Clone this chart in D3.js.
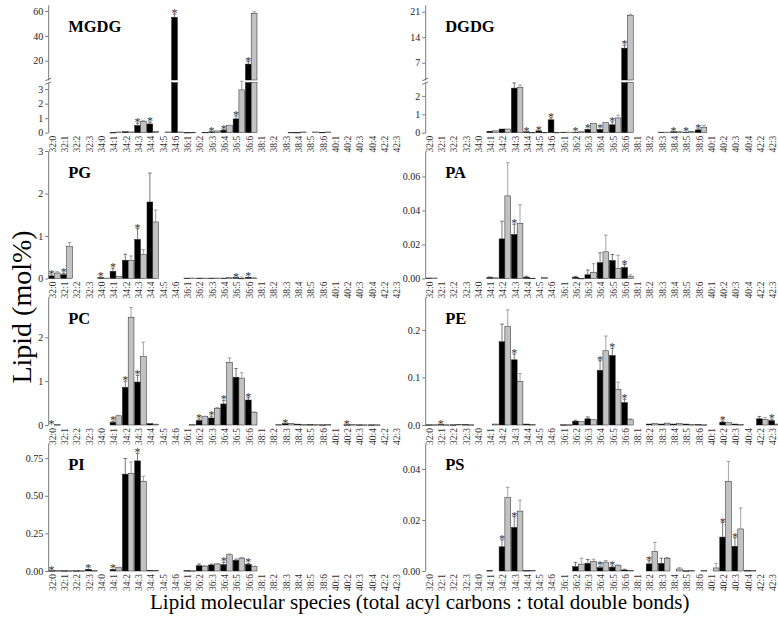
<!DOCTYPE html>
<html>
<head>
<meta charset="utf-8">
<script src="https://cdn.jsdelivr.net/npm/d3@7"></script>
<style>
  body { margin: 0; background: #fff; }
  svg { display: block; font-family: "Liberation Serif", "Times New Roman", serif; }
</style>
</head>
<body>
<div id="chart"></div>
<script>
// categories (total acyl carbons : total double bonds)
const species = ["32:0","32:1","32:2","32:3","34:0","34:1","34:2","34:3","34:4","34:5","34:6",
  "36:1","36:2","36:3","36:4","36:5","36:6","38:1","38:2","38:3","38:4","38:5","38:6",
  "40:1","40:2","40:3","40:4","42:2","42:3"];

// black = first series, grey = second series, *Err = upward error, *Star = index of asterisk
const mgdgBlack    = [0,0,0,0,0, 0.02,0.07,0.5,0.6,0,55, 0.02,0,0.05,0.17,0.95,17.3, 0,0,0,0.02,0,0.03, 0,0,0,0,0,0];
const mgdgBlackErr = [0,0,0,0,0, 0,0,0.15,0.12,0,2.5, 0,0,0.02,0.05,0.2,2, 0,0,0,0,0,0, 0,0,0,0,0,0];
const mgdgGrey     = [0,0,0,0,0, 0.05,0.05,0.78,0.1,0.05,0.05, 0.03,0.03,0.12,0.48,2.95,58.2, 0,0,0.03,0.05,0.05,0.05, 0,0,0,0,0,0];
const mgdgGreyErr  = [0,0,0,0,0, 0,0,0.05,0,0,0, 0,0,0,0.03,0.55,1.2, 0,0,0,0,0,0, 0,0,0,0,0,0];
const mgdgStar     = [7,8,10,13,14,15,16];

const dgdgBlack    = [0,0,0,0,0, 0.08,0.2,2.42,0.05,0.1,0.7, 0.03,0.03,0.18,0.18,0.43,11, 0,0,0.03,0.05,0.03,0.15, 0,0,0,0,0,0];
const dgdgBlackErr = [0,0,0,0,0, 0,0,0.28,0,0,0.1, 0,0,0,0,0.15,0.8, 0,0,0,0,0,0.05, 0,0,0,0,0,0];
const dgdgGrey     = [0,0,0,0,0, 0.1,0.2,2.47,0.02,0.02,0.02, 0.03,0.05,0.5,0.55,0.8,20, 0,0,0.03,0.05,0.07,0.3, 0,0,0,0,0,0];
const dgdgGreyErr  = [0,0,0,0,0, 0,0,0.12,0,0,0, 0,0,0,0,0.15,0.3, 0,0,0,0,0,0.1, 0,0,0,0,0,0];
const dgdgStar     = [8,9,10,12,13,14,15,16,20,21,22];

const pgBlack    = [0.06,0.09,0,0,0.02, 0.17,0.43,0.92,1.8,0,0, 0.01,0.01,0.01,0.01,0.02,0.03, 0,0,0,0,0,0, 0,0,0,0,0,0];
const pgBlackErr = [0.02,0.03,0,0,0.01, 0.07,0.14,0.25,0.68,0,0, 0,0,0,0,0,0, 0,0,0,0,0,0, 0,0,0,0,0,0];
const pgGrey     = [0.13,0.75,0,0,0.01, 0.05,0.43,0.56,1.33,0,0, 0.01,0.01,0.01,0.02,0.005,0.01, 0,0,0,0,0,0, 0,0,0,0,0,0];
const pgGreyErr  = [0.03,0.1,0,0,0, 0,0.1,0.12,0.28,0,0, 0,0,0,0,0.03,0.01, 0,0,0,0,0,0, 0,0,0,0,0,0];
const pgStar     = [0,1,4,5,7,15,16];

const paBlack    = [0.0003,0,0,0,0, 0.0007,0.0233,0.0259,0.0008,0,0, 0,0.0008,0.0022,0.0093,0.0106,0.0065, 0,0,0,0,0,0, 0,0,0,0,0,0];
const paBlackErr = [0,0,0,0,0, 0.0002,0.0104,0.006,0.0006,0,0, 0,0.0005,0.0028,0.0058,0.0035,0.0017, 0,0,0,0,0,0, 0,0,0,0,0,0];
const paGrey     = [0.0003,0,0,0,0, 0.0004,0.0486,0.0324,0.0002,0.0006,0, 0,0.0001,0.0037,0.0157,0.0059,0.0012, 0,0,0,0,0,0, 0,0,0,0,0,0];
const paGreyErr  = [0,0,0,0,0, 0,0.0195,0.011,0,0,0, 0,0,0.005,0.0098,0.0078,0.001, 0,0,0,0,0,0, 0,0,0,0,0,0];
const paStar     = [7,16];

const pcBlack    = [0,0,0,0,0, 0.06,0.86,0.98,0.03,0,0, 0,0.1,0.16,0.48,1.09,0.57, 0,0,0.03,0.02,0.01,0.005, 0,0.005,0.005,0.005,0,0];
const pcBlackErr = [0,0,0,0,0, 0.02,0.14,0.15,0,0,0, 0,0.03,0.04,0.08,0.2,0.05, 0,0,0,0,0,0, 0,0,0,0,0,0];
const pcGrey     = [0.01,0,0,0,0, 0.21,2.46,1.56,0.02,0,0, 0.01,0.19,0.38,1.43,1.07,0.28, 0,0.01,0.04,0.01,0.01,0.01, 0,0.01,0.005,0.005,0,0];
const pcGreyErr  = [0,0,0,0,0, 0.01,0.22,0.33,0,0,0, 0,0.01,0.02,0.1,0.12,0.02, 0,0,0,0,0,0, 0,0,0,0,0,0];
const pcStar     = [0,5,6,7,12,13,14,16,19,24];

const peBlack    = [0.0005,0.001,0.0005,0.001,0, 0,0.175,0.137,0.002,0,0, 0.0005,0.008,0.013,0.115,0.146,0.047, 0,0.002,0.002,0.002,0.002,0.001, 0,0.006,0.002,0,0.013,0.009];
const peBlackErr = [0,0,0,0,0, 0,0.037,0.012,0,0,0, 0,0.002,0.004,0.02,0.015,0.007, 0,0,0,0,0,0, 0,0.002,0,0,0.005,0.003];
const peGrey     = [0.0005,0.0005,0.0015,0.0005,0, 0.002,0.207,0.092,0.001,0,0, 0.0005,0.007,0.011,0.156,0.075,0.011, 0,0.003,0.004,0.003,0.001,0.0005, 0,0.005,0.001,0,0.012,0.002];
const peGreyErr  = [0,0,0,0,0, 0,0.035,0.016,0,0,0, 0,0,0,0.031,0.015,0.002, 0,0,0,0,0,0, 0,0,0,0,0.004,0];
const peStar     = [1,7,14,15,16,24,28];

const piBlack    = [0.002,0.002,0.002,0.011,0, 0.01,0.644,0.732,0.005,0,0, 0.003,0.035,0.04,0.042,0.071,0.044, 0,0,0,0,0,0, 0,0,0,0,0,0];
const piBlackErr = [0,0,0,0,0, 0,0.104,0.05,0,0,0, 0,0.012,0.006,0.015,0.008,0.006, 0,0,0,0,0,0, 0,0,0,0,0,0];
const piGrey     = [0.003,0.002,0.002,0.003,0, 0.022,0.65,0.597,0.005,0,0, 0.002,0.029,0.047,0.108,0.086,0.03, 0,0,0,0,0,0, 0,0,0,0,0,0];
const piGreyErr  = [0,0,0,0,0, 0.003,0.075,0.033,0,0,0, 0,0.008,0.003,0.005,0.004,0.003, 0,0,0,0,0,0, 0,0,0,0,0,0];
const piStar     = [0,3,5,7,14,16];

const psBlack    = [0,0,0,0,0, 0.0002,0.0095,0.0171,0.0002,0,0, 0,0.0017,0.003,0.0013,0.0015,0.0004, 0,0.0028,0.003,0,0.0001,0, 0,0.0133,0.0097,0.0002,0,0];
const psBlackErr = [0,0,0,0,0, 0,0.0027,0.0042,0,0,0, 0,0.0017,0.0015,0.0005,0.0004,0.0003, 0,0.0012,0.002,0,0,0, 0,0.0057,0.0033,0,0,0];
const psGrey     = [0,0,0,0,0, 0,0.0288,0.0235,0.0003,0,0, 0,0.0027,0.0038,0.0035,0.0021,0.0003, 0,0.0077,0.005,0.0008,0.0002,0.0002, 0.0012,0.0352,0.0165,0.0002,0,0];
const psGreyErr  = [0,0,0,0,0, 0,0.004,0.0043,0,0,0, 0,0.0023,0.0008,0.0006,0.0003,0, 0,0.0035,0.0003,0.0005,0,0, 0.0018,0.0078,0.0082,0,0,0];
const psStar     = [6,7,14,15,18,24,25];

const width = 778, height = 617;
const cols = [{ x0: 48.2, x1: 405 }, { x0: 425.2, x1: 780.7 }];
const rows = [{ top: 4.8, zero: 132.7 }, { top: 151, zero: 278.5 }, { top: 297, zero: 425 }, { top: 443, zero: 571 }];

const panels = [
  { name: "MGDG", col: 0, row: 0, b: mgdgBlack, be: mgdgBlackErr, g: mgdgGrey, ge: mgdgGreyErr, star: mgdgStar,
    brk: { low: [0, 3.45], up: [4.5, 65], lowTop: 82.6, upBottom: 80, lowTicks: [0,1,2,3], upTicks: [20,40,60] }, fmt: "d" },
  { name: "DGDG", col: 1, row: 0, b: dgdgBlack, be: dgdgBlackErr, g: dgdgGrey, ge: dgdgGreyErr, star: dgdgStar,
    brk: { low: [0, 2.72], up: [2.25, 22.9], lowTop: 82.6, upBottom: 80, lowTicks: [0,1,2], upTicks: [7,14,21] }, fmt: "d" },
  { name: "PG", col: 0, row: 1, b: pgBlack, be: pgBlackErr, g: pgGrey, ge: pgGreyErr, star: pgStar, max: 3, ticks: [0,1,2,3], fmt: "d" },
  { name: "PA", col: 1, row: 1, b: paBlack, be: paBlackErr, g: paGrey, ge: paGreyErr, star: paStar, max: 0.075, ticks: [0,0.02,0.04,0.06], fmt: ".2f" },
  { name: "PC", col: 0, row: 2, b: pcBlack, be: pcBlackErr, g: pcGrey, ge: pcGreyErr, star: pcStar, max: 2.92, ticks: [0,1,2], fmt: "d" },
  { name: "PE", col: 1, row: 2, b: peBlack, be: peBlackErr, g: peGrey, ge: peGreyErr, star: peStar, max: 0.269, ticks: [0,0.1,0.2], fmt: ".1f" },
  { name: "PI", col: 0, row: 3, b: piBlack, be: piBlackErr, g: piGrey, ge: piGreyErr, star: piStar, max: 0.851, ticks: [0,0.25,0.5,0.75], fmt: ".2f" },
  { name: "PS", col: 1, row: 3, b: psBlack, be: psBlackErr, g: psGrey, ge: psGreyErr, star: psStar, max: 0.0502, ticks: [0,0.02,0.04], fmt: ".2f" }
];

const svg = d3.select("#chart").append("svg")
  .attr("width", width).attr("height", height)
  .attr("viewBox", `0 0 ${width} ${height}`);

const axisColor = "#7a7a7a";
const greyFill = "#c2c2c2";

function styleAxis(g) {
  g.select(".domain").attr("stroke", axisColor).attr("stroke-width", 1);
  g.selectAll(".tick line").attr("stroke", axisColor);
  g.selectAll(".tick text").attr("fill", "#222").attr("font-size", 10)
    .attr("font-family", "Liberation Serif, serif");
}

panels.forEach(p => {
  const c = cols[p.col], r = rows[p.row];
  const x = d3.scaleBand().domain(species).range([c.x0, c.x1]).paddingInner(0.06).paddingOuter(0.03);
  const sub = d3.scaleBand().domain(["b", "g"]).range([0, x.bandwidth()]);
  const g = svg.append("g");

  // y scale(s)
  let yLow, yUp, y;
  if (p.brk) {
    yLow = d3.scaleLinear().domain(p.brk.low).range([r.zero, p.brk.lowTop]);
    yUp = d3.scaleLinear().domain(p.brk.up).range([p.brk.upBottom, r.top]);
    y = v => v <= p.brk.low[1] ? yLow(v) : yUp(v);
  } else {
    yLow = d3.scaleLinear().domain([0, p.max]).range([r.zero, r.top]);
    y = v => yLow(v);
  }

  // bars
  const drawBar = (key, v, fill) => {
    if (v <= 0) return;
    const bx = x(species[key.i]) + sub(key.s);
    const bw = sub.bandwidth();
    const segs = [];
    if (p.brk && v > p.brk.low[1]) {
      segs.push([yLow(p.brk.low[1]), r.zero]);
      segs.push([yUp(v), p.brk.upBottom]);
    } else {
      segs.push([y(v), r.zero]);
    }
    segs.forEach(([y0, y1]) => {
      g.append("rect")
        .attr("x", bx).attr("y", y0)
        .attr("width", bw).attr("height", Math.max(0.6, y1 - y0))
        .attr("fill", fill)
        .attr("stroke", "#222").attr("stroke-width", 0.5);
    });
  };
  const drawErr = (key, v, e, col) => {
    if (e <= 0) return;
    const cx = x(species[key.i]) + sub(key.s) + sub.bandwidth() / 2;
    const y0 = y(v), y1 = y(v + e);
    g.append("line").attr("x1", cx).attr("x2", cx).attr("y1", y0).attr("y2", y1)
      .attr("stroke", col).attr("stroke-width", 0.8);
    g.append("line").attr("x1", cx - 1.8).attr("x2", cx + 1.8).attr("y1", y1).attr("y2", y1)
      .attr("stroke", col).attr("stroke-width", 0.8);
  };

  species.forEach((s, i) => {
    drawBar({ i, s: "b" }, p.b[i], "#000");
    drawBar({ i, s: "g" }, p.g[i], greyFill);
    drawErr({ i, s: "b" }, p.b[i], p.be[i], "#555");
    drawErr({ i, s: "g" }, p.g[i], p.ge[i], "#8a8a8a");
  });

  // asterisks over the black bars
  p.star.forEach(i => {
    const cx = x(species[i]) + sub("b") + sub.bandwidth() / 2;
    const yt = y(p.b[i] + p.be[i]);
    g.append("text").attr("x", cx).attr("y", yt + 3)
      .attr("text-anchor", "middle").attr("font-size", 12).attr("fill", "#333")
      .text("*");
  });

  // y axis
  const fmt = d3.format(p.fmt);
  if (p.brk) {
    const aLow = g.append("g").attr("transform", `translate(${c.x0},0)`)
      .call(d3.axisLeft(yLow).tickValues(p.brk.lowTicks).tickFormat(fmt).tickSize(3).tickSizeOuter(0).tickPadding(2));
    styleAxis(aLow);
    const aUp = g.append("g").attr("transform", `translate(${c.x0},0)`)
      .call(d3.axisLeft(yUp).tickValues(p.brk.upTicks).tickFormat(fmt).tickSize(3).tickSizeOuter(0).tickPadding(2));
    styleAxis(aUp);
    // break marks
    [p.brk.upBottom - 0.5, p.brk.lowTop + 0.5].forEach(by => {
      g.append("line").attr("x1", c.x0 - 3).attr("x2", c.x0 + 3)
        .attr("y1", by + 1.3).attr("y2", by - 1.3)
        .attr("stroke", "#555").attr("stroke-width", 0.8);
    });
  } else {
    const a = g.append("g").attr("transform", `translate(${c.x0},0)`)
      .call(d3.axisLeft(yLow).tickValues(p.ticks).tickFormat(fmt).tickSize(3).tickSizeOuter(0).tickPadding(2));
    styleAxis(a);
  }

  // category labels
  species.forEach(s => {
    const cx = x(s) + x.bandwidth() / 2 - 1.5;
    g.append("text")
      .attr("transform", `translate(${cx},${r.zero + 3}) rotate(-90)`)
      .attr("text-anchor", "end").attr("dominant-baseline", "central")
      .attr("font-size", 9.5).attr("fill", "#333")
      .text(s);
  });

  // panel label
  g.append("text").attr("x", c.x0 + 20).attr("y", r.top + 27)
    .attr("font-size", 16.5).attr("font-weight", "bold").attr("fill", "#000")
    .text(p.name);
});

// axis titles
svg.append("text")
  .attr("transform", `translate(31,307) rotate(-90)`)
  .attr("text-anchor", "middle")
  .attr("font-size", 28).attr("fill", "#000")
  .text("Lipid (mol%)");

svg.append("text")
  .attr("x", 150).attr("y", 609)
  .attr("font-size", 21).attr("fill", "#000")
  .text("Lipid molecular species (total acyl carbons : total double bonds)");
</script>
</body>
</html>
